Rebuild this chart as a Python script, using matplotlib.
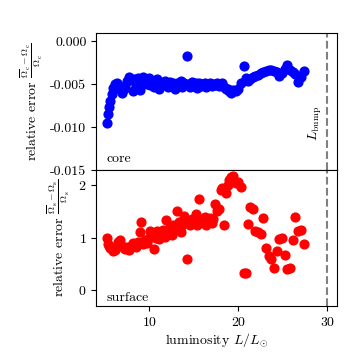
import numpy as np
import matplotlib
matplotlib.use("Agg")
import matplotlib.pyplot as plt

plt.rcParams['font.family'] = 'serif'
plt.rcParams['font.serif'] = ['cmr10']
plt.rcParams['mathtext.fontset'] = 'cm'
plt.rcParams['axes.formatter.use_mathtext'] = True
plt.rcParams['font.size'] = 10

# luminosity of the models (L/Lsun)
lum = [5.2, 5.3, 5.45, 5.6, 5.75, 5.9, 6.1, 6.3, 6.5, 6.7,
       6.9, 7.1, 7.3, 7.5, 7.7, 7.9, 8.1, 8.3, 8.5, 8.7,
       8.9, 9.1, 9.3, 9.5, 9.7, 9.9, 10.1, 10.3, 10.5, 10.7,
       10.9, 11.1, 11.3, 11.5, 11.7, 11.9, 12.1, 12.3, 12.5, 12.7,
       12.9, 13.1, 13.3, 13.5, 13.7, 13.9, 14.2, 14.4, 14.6, 14.8,
       15.0, 15.2, 15.4, 15.6, 15.8, 16.0, 16.2, 16.4, 16.6, 16.8,
       17.0, 17.2, 17.4, 17.6, 17.8, 18.0, 18.2, 18.4, 18.6, 18.8,
       19.0, 19.2, 19.4, 19.7, 20.0, 20.3, 20.6, 20.9, 21.1, 21.35,
       21.6, 21.9, 22.2, 22.5, 22.8, 23.1, 23.4, 23.7, 24.0, 24.3,
       24.6, 24.9, 25.2, 25.5, 25.8, 26.1, 26.4, 26.7, 27.0, 27.4]

# relative error of core rotation (x 1e-3)
err_core = [-9.5, -8.5, -7.6, -6.9, -6.1, -5.4, -5.0, -4.9, -5.2, -5.6,
            -6.0, -5.5, -5.2, -4.6, -4.1, -4.5, -5.8, -4.4, -5.2, -4.3,
            -5.7, -4.5, -4.2, -4.7, -5.0, -4.3, -5.1, -4.6, -5.3, -4.9,
            -4.4, -5.5, -4.8, -5.1, -4.6, -5.0, -5.3, -4.7, -5.2, -4.9,
            -5.5, -4.8, -5.1, -4.6, -5.3, -4.9, -1.7, -5.0, -5.3, -4.7,
            -5.2, -4.9, -5.4, -4.8, -5.2, -5.0, -4.8, -5.3, -5.0, -4.9,
            -5.2, -5.0, -5.1, -4.9, -5.2, -5.1, -4.9, -5.3, -5.5, -5.6,
            -5.8, -6.0, -5.7, -5.8, -5.6, -4.9, -2.9, -4.3, -4.6, -4.4,
            -4.2, -4.0, -3.9, -3.7, -3.6, -3.5, -3.3, -3.3, -3.4, -3.6,
            -4.0, -3.7, -3.2, -2.7, -3.3, -3.6, -3.8, -4.7, -4.1, -3.4]

# relative error of surface rotation
err_surf = [1.0, 0.88, 0.85, 0.8, 0.78, 0.75, 0.77, 0.85, 0.92, 0.95,
            0.85, 0.8, 0.78, 0.82, 0.76, 0.84, 0.9, 0.88, 0.83, 0.92,
            1.1, 1.3, 0.88, 0.95, 0.9, 1.0, 1.12, 1.05, 0.79, 1.0,
            1.13, 0.97, 1.08, 1.15, 1.02, 1.33, 1.1, 1.2, 1.05, 1.25,
            1.15, 1.5, 1.3, 1.1, 1.25, 1.42, 0.59, 1.3, 1.25, 1.35,
            1.28, 1.45, 1.25, 1.73, 1.3, 1.35, 1.4, 1.25, 1.32, 1.38,
            1.28, 1.35, 1.65, 1.5, 1.55, 1.9, 1.95, 1.24, 1.85, 2.0,
            2.1, 2.15, 2.17, 2.05, 2.07, 1.97, 0.32, 0.33, 1.27, 1.58,
            1.55, 1.12, 1.1, 1.08, 1.37, 0.8, 0.65, 0.6, 0.43, 0.75,
            0.97, 1.0, 0.67, 0.4, 0.42, 0.95, 1.4, 1.12, 1.15, 0.88]

L_bump = 30.0

lum = np.array(lum)
err_core = np.array(err_core) * 1e-3
err_surf = np.array(err_surf)

fig = plt.figure(figsize=(3.47, 3.56), dpi=100)
ax1 = fig.add_axes([0.277, 0.5225, 0.694, 0.385])
ax2 = fig.add_axes([0.277, 0.1404, 0.694, 0.3821], sharex=ax1)

ax1.scatter(lum, err_core, color='blue', s=40, zorder=3)
ax2.scatter(lum, err_surf, color='red', s=40, zorder=3)

for ax in (ax1, ax2):
    ax.axvline(L_bump, color='gray', ls='--', lw=1.5)

ax1.set_ylim(-0.015, 0.001)
ax1.set_yticks([0.0, -0.005, -0.010, -0.015])
ax1.yaxis.set_major_formatter(matplotlib.ticker.FormatStrFormatter('%.3f'))
ax1.tick_params(bottom=False, labelbottom=False)
ax2.set_ylim(-0.3, 2.29)
ax2.set_yticks([0, 1, 2])
ax2.set_xlim(4.0, 31.1)
ax2.set_xticks([10, 20, 30])

ax1.set_ylabel(r'relative error $\frac{\overline{\Omega}_{\rm c}-\Omega_{\rm c}}{\Omega_{\rm c}}$')
ax2.set_ylabel(r'relative error $\frac{\overline{\Omega}_{\rm s}-\Omega_{\rm s}}{\Omega_{\rm s}}$')
ax2.set_xlabel(r'luminosity $L/L_{\odot}$', labelpad=2)

ax1.text(0.045, 0.06, 'core', transform=ax1.transAxes)
ax2.text(0.045, 0.04, 'surface', transform=ax2.transAxes)
ax1.text(L_bump - 0.35, -0.0096, r'$L_{\rm bump}$', rotation=90,
         ha='right', va='center')

fig.savefig('out.png', dpi=100)
